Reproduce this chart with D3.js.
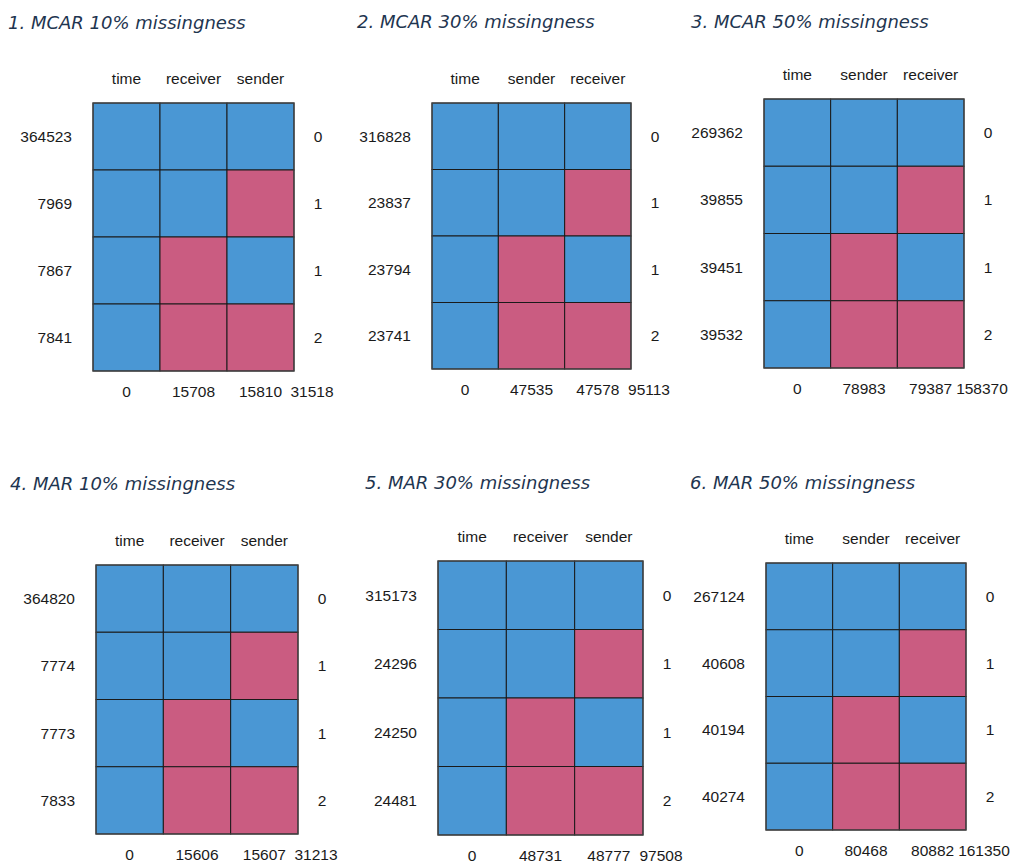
<!DOCTYPE html>
<html>
<head>
<meta charset="utf-8">
<script src="https://cdn.jsdelivr.net/npm/d3@7"></script>
<style>
  html, body { margin: 0; padding: 0; background: #fff; }
  svg { display: block; }
</style>
</head>
<body>
<svg id="chart" width="1011" height="864"></svg>
<script>
// Missing-data patterns for six simulated scenarios (rows = patterns, cols = variables)
const titles = [
  "1. MCAR 10% missingness",
  "2. MCAR 30% missingness",
  "3. MCAR 50% missingness",
  "4. MAR 10% missingness",
  "5. MAR 30% missingness",
  "6. MAR 50% missingness"
];
const variables = [
  ["time", "receiver", "sender"],
  ["time", "sender", "receiver"],
  ["time", "sender", "receiver"],
  ["time", "receiver", "sender"],
  ["time", "receiver", "sender"],
  ["time", "sender", "receiver"]
];
// number of records per pattern
const patternCounts = [
  [364523, 7969, 7867, 7841],
  [316828, 23837, 23794, 23741],
  [269362, 39855, 39451, 39532],
  [364820, 7774, 7773, 7833],
  [315173, 24296, 24250, 24481],
  [267124, 40608, 40194, 40274]
];
// 1 = observed, 0 = missing (same pattern layout in every panel)
const patternMatrix = [
  [1, 1, 1],
  [1, 1, 0],
  [1, 0, 1],
  [1, 0, 0]
];
// missing values per variable
const missingPerVariable = [
  [0, 15708, 15810],
  [0, 47535, 47578],
  [0, 78983, 79387],
  [0, 15606, 15607],
  [0, 48731, 48777],
  [0, 80468, 80882]
];
const totalMissing = [31518, 95113, 158370, 31213, 97508, 161350];

// Panel placement: grid box [left, top, right, bottom] and title anchor
const panelLayout = [
  { grid: [93, 103, 294, 371],  title: [8, 29] },
  { grid: [432, 103, 631, 369], title: [357, 28] },
  { grid: [764, 99, 964, 368],  title: [691, 28] },
  { grid: [96, 565, 298, 834],  title: [10, 490] },
  { grid: [438, 561, 643, 835], title: [365, 489] },
  { grid: [766, 563, 966, 830], title: [690, 489] }
];

const observedColor = "#4A97D4";
const missingColor = "#CA5C81";
const labelFont = "'Liberation Sans', Arial, sans-serif";
const titleFont = "'DejaVu Sans', 'Noto Sans', sans-serif";

const svg = d3.select("#chart");

titles.forEach((title, p) => {
  const [x0, y0, x1, y1] = panelLayout[p].grid;
  const cols = variables[p];
  const rowIdx = d3.range(patternMatrix.length);

  const x = d3.scaleBand().domain(d3.range(cols.length)).range([x0, x1]).padding(0);
  const y = d3.scaleBand().domain(rowIdx).range([y0, y1]).padding(0);

  const g = svg.append("g");

  // title
  g.append("text")
    .attr("x", panelLayout[p].title[0])
    .attr("y", panelLayout[p].title[1])
    .attr("font-family", titleFont)
    .attr("font-style", "italic")
    .attr("font-size", 18)
    .attr("fill", "#1E3550")
    .text(title);

  // cells
  const cells = [];
  rowIdx.forEach(r => cols.forEach((c, j) => cells.push({ r, j, v: patternMatrix[r][j] })));
  g.selectAll("rect.cell").data(cells).join("rect")
    .attr("class", "cell")
    .attr("x", d => x(d.j))
    .attr("y", d => y(d.r))
    .attr("width", x.bandwidth())
    .attr("height", y.bandwidth())
    .attr("fill", d => d.v ? observedColor : missingColor)
    .attr("stroke", "#1a1a1a")
    .attr("stroke-width", 1);

  g.append("rect")
    .attr("x", x0).attr("y", y0)
    .attr("width", x1 - x0).attr("height", y1 - y0)
    .attr("fill", "none")
    .attr("stroke", "#444")
    .attr("stroke-width", 1.2);

  const txt = sel => sel
    .attr("font-family", labelFont)
    .attr("font-size", 15.5)
    .attr("fill", "#1a1a1a");

  // variable names on top
  g.selectAll("text.var").data(cols).join("text")
    .attr("class", "var")
    .attr("x", (d, j) => x(j) + x.bandwidth() / 2)
    .attr("y", y0 - 19)
    .attr("text-anchor", "middle")
    .call(txt)
    .text(d => d);

  // pattern counts on left
  g.selectAll("text.count").data(patternCounts[p]).join("text")
    .attr("class", "count")
    .attr("x", x0 - 21)
    .attr("y", (d, r) => y(r) + y.bandwidth() / 2 + 5.5)
    .attr("text-anchor", "end")
    .call(txt)
    .text(d => d);

  // number of missing variables per pattern, on right
  g.selectAll("text.nmiss").data(patternMatrix.map(row => row.filter(v => v === 0).length)).join("text")
    .attr("class", "nmiss")
    .attr("x", x1 + 24)
    .attr("y", (d, r) => y(r) + y.bandwidth() / 2 + 5.5)
    .attr("text-anchor", "middle")
    .call(txt)
    .text(d => d);

  // missing per variable at bottom
  g.selectAll("text.vmiss").data(missingPerVariable[p]).join("text")
    .attr("class", "vmiss")
    .attr("x", (d, j) => x(j) + x.bandwidth() / 2)
    .attr("y", y1 + 26)
    .attr("text-anchor", "middle")
    .call(txt)
    .text(d => d);

  // grand total
  g.append("text")
    .attr("x", x1 + 18)
    .attr("y", y1 + 26)
    .attr("text-anchor", "middle")
    .call(txt)
    .text(totalMissing[p]);
});
</script>
</body>
</html>
